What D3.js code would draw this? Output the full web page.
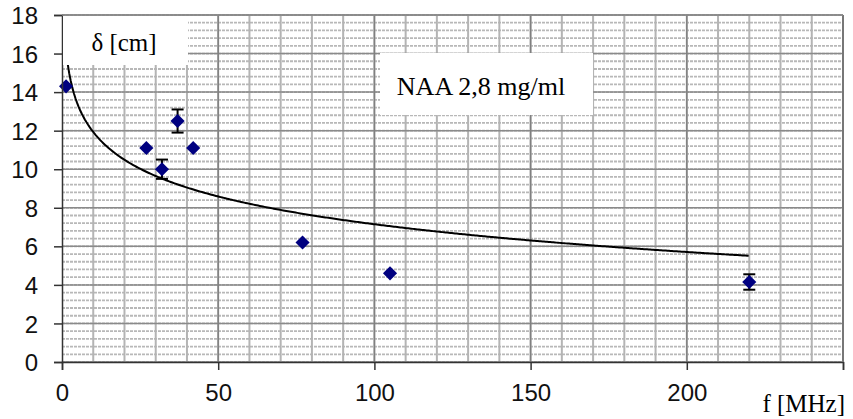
<!DOCTYPE html>
<html>
  <head>
    <meta charset="utf-8" />
    <title>NAA 2,8 mg/ml</title>
    <script src="https://d3js.org/d3.v7.min.js"></script>
    <style>
      body { margin: 0; background: #fff; }
      .tick text { font-family: "Liberation Sans", Arial, sans-serif; font-size: 24px; fill: #111; }
      .serif { font-family: "Liberation Serif", "Times New Roman", serif; fill: #000; }
    </style>
  </head>
  <body>
    <svg id="chart" width="853" height="419"></svg>
  </body>
  <script>
    // measured points: frequency [MHz], penetration depth [cm], error
    var freq = [1.3, 27, 32, 37, 42, 77, 105, 220];
    var depth = [14.3, 11.1, 10.0, 12.5, 11.1, 6.2, 4.6, 4.15];
    var err = [0, 0, 0.5, 0.6, 0, 0, 0, 0.4];
    var xTicks = [0, 50, 100, 150, 200];
    var yTicks = [0, 2, 4, 6, 8, 10, 12, 14, 16, 18];

    var svg = d3.select("#chart");
    // (plotTop, not "top" - that one is window.top)
    var plotLeft = 62, plotRight = 843, plotTop = 15, plotBottom = 362;

    var x = d3.scaleLinear().domain([0, 250]).range([plotLeft, plotRight]);
    var y = d3.scaleLinear().domain([0, 18]).range([plotBottom, plotTop]);

    // grid - minor lines first
    var g = svg.append("g");
    g.selectAll(".hminor")
      .data(d3.range(0, 18.01, 0.4))
      .enter().append("line")
      .attr("x1", plotLeft).attr("x2", plotRight)
      .attr("y1", function(d){ return y(d); })
      .attr("y2", function(d){ return y(d); })
      .attr("stroke", "#b8b8b8")
      .attr("stroke-width", 1.8)
      .attr("stroke-dasharray", "3,1");
    g.selectAll(".vminor")
      .data(d3.range(10, 250, 10))
      .enter().append("line")
      .attr("x1", function(d){ return x(d); })
      .attr("x2", function(d){ return x(d); })
      .attr("y1", plotTop).attr("y2", plotBottom)
      .attr("stroke", "#b4b4b4")
      .attr("stroke-width", 2);
    g.selectAll(".hmajor")
      .data(yTicks)
      .enter().append("line")
      .attr("x1", plotLeft).attr("x2", plotRight)
      .attr("y1", function(d){ return y(d); })
      .attr("y2", function(d){ return y(d); })
      .attr("stroke", "#8a8a8a")
      .attr("stroke-width", 1.5);
    g.selectAll(".vmajor")
      .data([50, 100, 150, 200, 250])
      .enter().append("line")
      .attr("x1", function(d){ return x(d); })
      .attr("x2", function(d){ return x(d); })
      .attr("y1", plotTop).attr("y2", plotBottom)
      .attr("stroke", "#808080")
      .attr("stroke-width", 1.5);

    // logarithmic trend line fitted to the points
    var lx = freq.map(Math.log);
    var mx = d3.mean(lx), my = d3.mean(depth);
    var sxy = d3.sum(lx, function(v, i){ return (v - mx) * (depth[i] - my); });
    var sxx = d3.sum(lx, function(v){ return (v - mx) * (v - mx); });
    var b = sxy / sxx, a = my - b * mx;
    var trendX = d3.range(freq[0], 220.01, 0.5);
    var line = d3.line()
      .x(function(d){ return x(d); })
      .y(function(d){ return y(a + b * Math.log(d)); });
    svg.append("path")
      .attr("d", line(trendX))
      .attr("fill", "none")
      .attr("stroke", "#000")
      .attr("stroke-width", 2);

    // error bars
    var eb = svg.append("g").attr("stroke", "#000").attr("stroke-width", 2);
    freq.forEach(function(f, i){
      if (!err[i]) return;
      var cx = x(f);
      eb.append("line").attr("x1", cx).attr("x2", cx)
        .attr("y1", y(depth[i] - err[i])).attr("y2", y(depth[i] + err[i]));
      [depth[i] - err[i], depth[i] + err[i]].forEach(function(v){
        eb.append("line").attr("x1", cx - 6).attr("x2", cx + 6)
          .attr("y1", y(v)).attr("y2", y(v));
      });
    });

    // diamonds
    var diamond = d3.symbol().type(d3.symbolSquare).size(100);
    svg.selectAll(".dot")
      .data(freq)
      .enter().append("path")
      .attr("class", "dot")
      .attr("d", diamond)
      .attr("fill", "#000080")
      .attr("transform", function(d, i){
        return "translate(" + x(d) + "," + y(depth[i]) + ") rotate(45)";
      });

    // axes
    var yAxis = d3.axisLeft(y).tickValues(yTicks).tickSize(8).tickPadding(16);
    var xAxis = d3.axisBottom(x).tickValues(xTicks.concat([250])).tickSize(8).tickPadding(14)
      .tickFormat(function(d){ return d === 250 ? "" : d; });
    var ya = svg.append("g").attr("transform", "translate(" + plotLeft + ",0)").call(yAxis);
    var xa = svg.append("g").attr("transform", "translate(0," + plotBottom + ")").call(xAxis);
    [ya, xa].forEach(function(ax){
      ax.select(".domain").attr("stroke", "#333").attr("stroke-width", 1.5);
      ax.selectAll(".tick line").attr("stroke", "#333").attr("stroke-width", 1.5);
    });
    ya.selectAll(".tick text").attr("dy", "0.36em");

    // right and top border
    svg.append("line").attr("x1", plotRight).attr("x2", plotRight).attr("y1", plotTop).attr("y2", plotBottom)
      .attr("stroke", "#777").attr("stroke-width", 2);
    svg.append("line").attr("x1", plotLeft).attr("x2", plotRight).attr("y1", plotTop).attr("y2", plotTop)
      .attr("stroke", "#888").attr("stroke-width", 1.5);

    // label boxes
    svg.append("rect").attr("x", plotLeft + 1).attr("y", plotTop + 1)
      .attr("width", 125).attr("height", 49).attr("fill", "#fff");
    svg.append("text").attr("class", "serif")
      .attr("x", 124).attr("y", 51).attr("text-anchor", "middle")
      .style("font-size", "25px").text("δ [cm]");

    svg.append("rect").attr("x", 380).attr("y", 53)
      .attr("width", 213).attr("height", 62).attr("fill", "#fff");
    svg.append("text").attr("class", "serif")
      .attr("x", 481).attr("y", 95).attr("text-anchor", "middle")
      .style("font-size", "26px").text("NAA 2,8 mg/ml");

    svg.append("text").attr("class", "serif")
      .attr("x", 845).attr("y", 412).attr("text-anchor", "end")
      .style("font-size", "25px").text("f [MHz]");
  </script>
</html>
